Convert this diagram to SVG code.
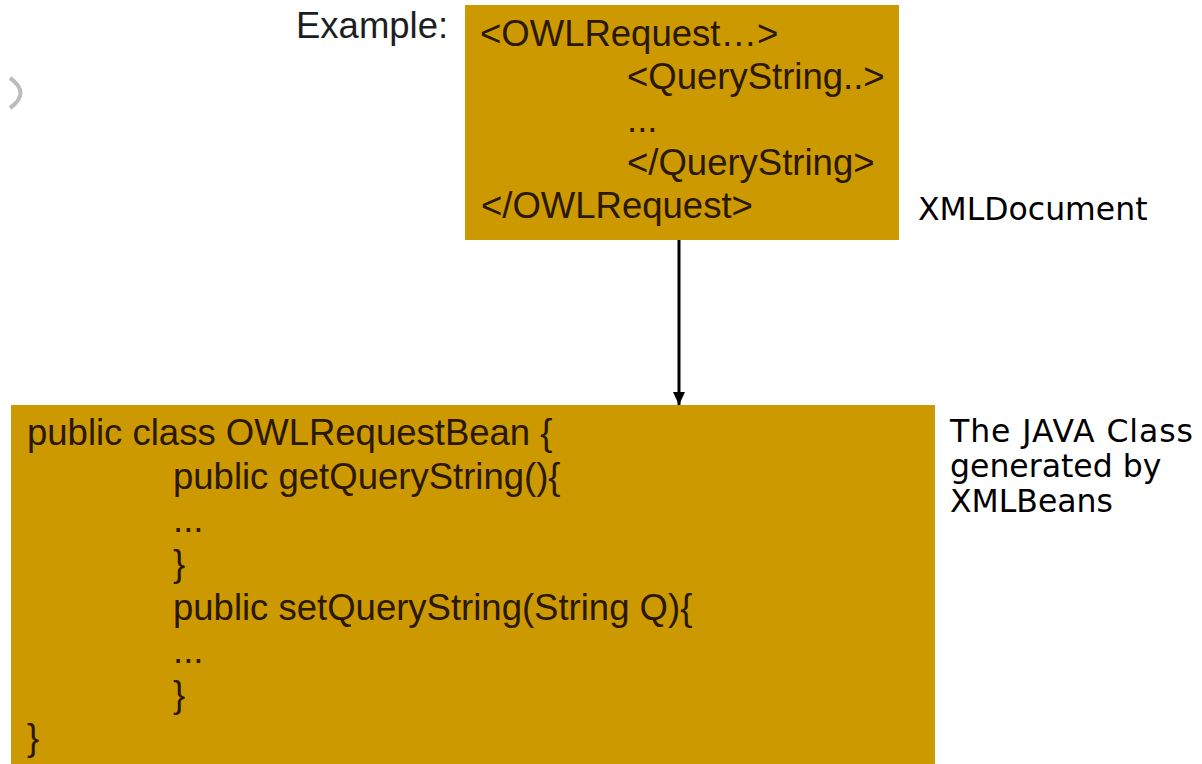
<svg xmlns="http://www.w3.org/2000/svg" width="1202" height="764" viewBox="0 0 1202 764">
  <defs>
    <style>
      .box { fill: #cc9900; }
      .code { font-family: "Liberation Sans", Arial, sans-serif; font-size: 36.5px; fill: #2a1800; }
      .lead { font-family: "Liberation Sans", Arial, sans-serif; font-size: 36.5px; fill: #1e1e1e; }
      .note { font-family: "DejaVu Sans", Verdana, sans-serif; font-size: 31.5px; fill: #000; }
      .link { stroke: #000; stroke-width: 3; fill: none; }
    </style>
    <marker id="arrowhead" markerWidth="14" markerHeight="14" refX="13" refY="6" orient="auto" markerUnits="userSpaceOnUse">
      <path d="M0,0 L13,6 L0,12 Z" fill="#000"/>
    </marker>
  </defs>

  <rect width="1202" height="764" fill="#ffffff"/>

  <!-- partly cut-off bracket at the left edge -->
  <path d="M10,78 Q31,93 10,108" stroke="#bcbcbc" stroke-width="4" fill="none"/>

  <text class="lead" x="296" y="38">Example:</text>

  <g id="xml-document">
    <rect class="box" x="465" y="5" width="434" height="235"/>
    <text class="code" x="480" y="46">&lt;OWLRequest…&gt;</text>
    <text class="code" x="627" y="89">&lt;QueryString..&gt;</text>
    <text class="code" x="627" y="132">...</text>
    <text class="code" x="627" y="175">&lt;/QueryString&gt;</text>
    <text class="code" x="481" y="218">&lt;/OWLRequest&gt;</text>
  </g>
  <text class="note" x="918" y="220">XMLDocument</text>

  <g id="java-class">
    <rect class="box" x="11" y="405" width="924" height="370"/>
    <text class="code" x="27" y="445">public class OWLRequestBean {</text>
    <text class="code" x="173" y="489">public getQueryString(){</text>
    <text class="code" x="173" y="532">...</text>
    <text class="code" x="173" y="576">}</text>
    <text class="code" x="173" y="620">public setQueryString(String Q){</text>
    <text class="code" x="173" y="663">...</text>
    <text class="code" x="173" y="707">}</text>
    <text class="code" x="27" y="750">}</text>
  </g>
  <g id="java-class-note">
    <text class="note" x="950" y="442" textLength="243" lengthAdjust="spacing">The JAVA Class</text>
    <text class="note" x="950" y="477">generated by</text>
    <text class="note" x="950" y="512">XMLBeans</text>
  </g>

  <g id="connectors">
    <line class="link" x1="679" y1="240" x2="679" y2="405" marker-end="url(#arrowhead)"/>
  </g>
</svg>
